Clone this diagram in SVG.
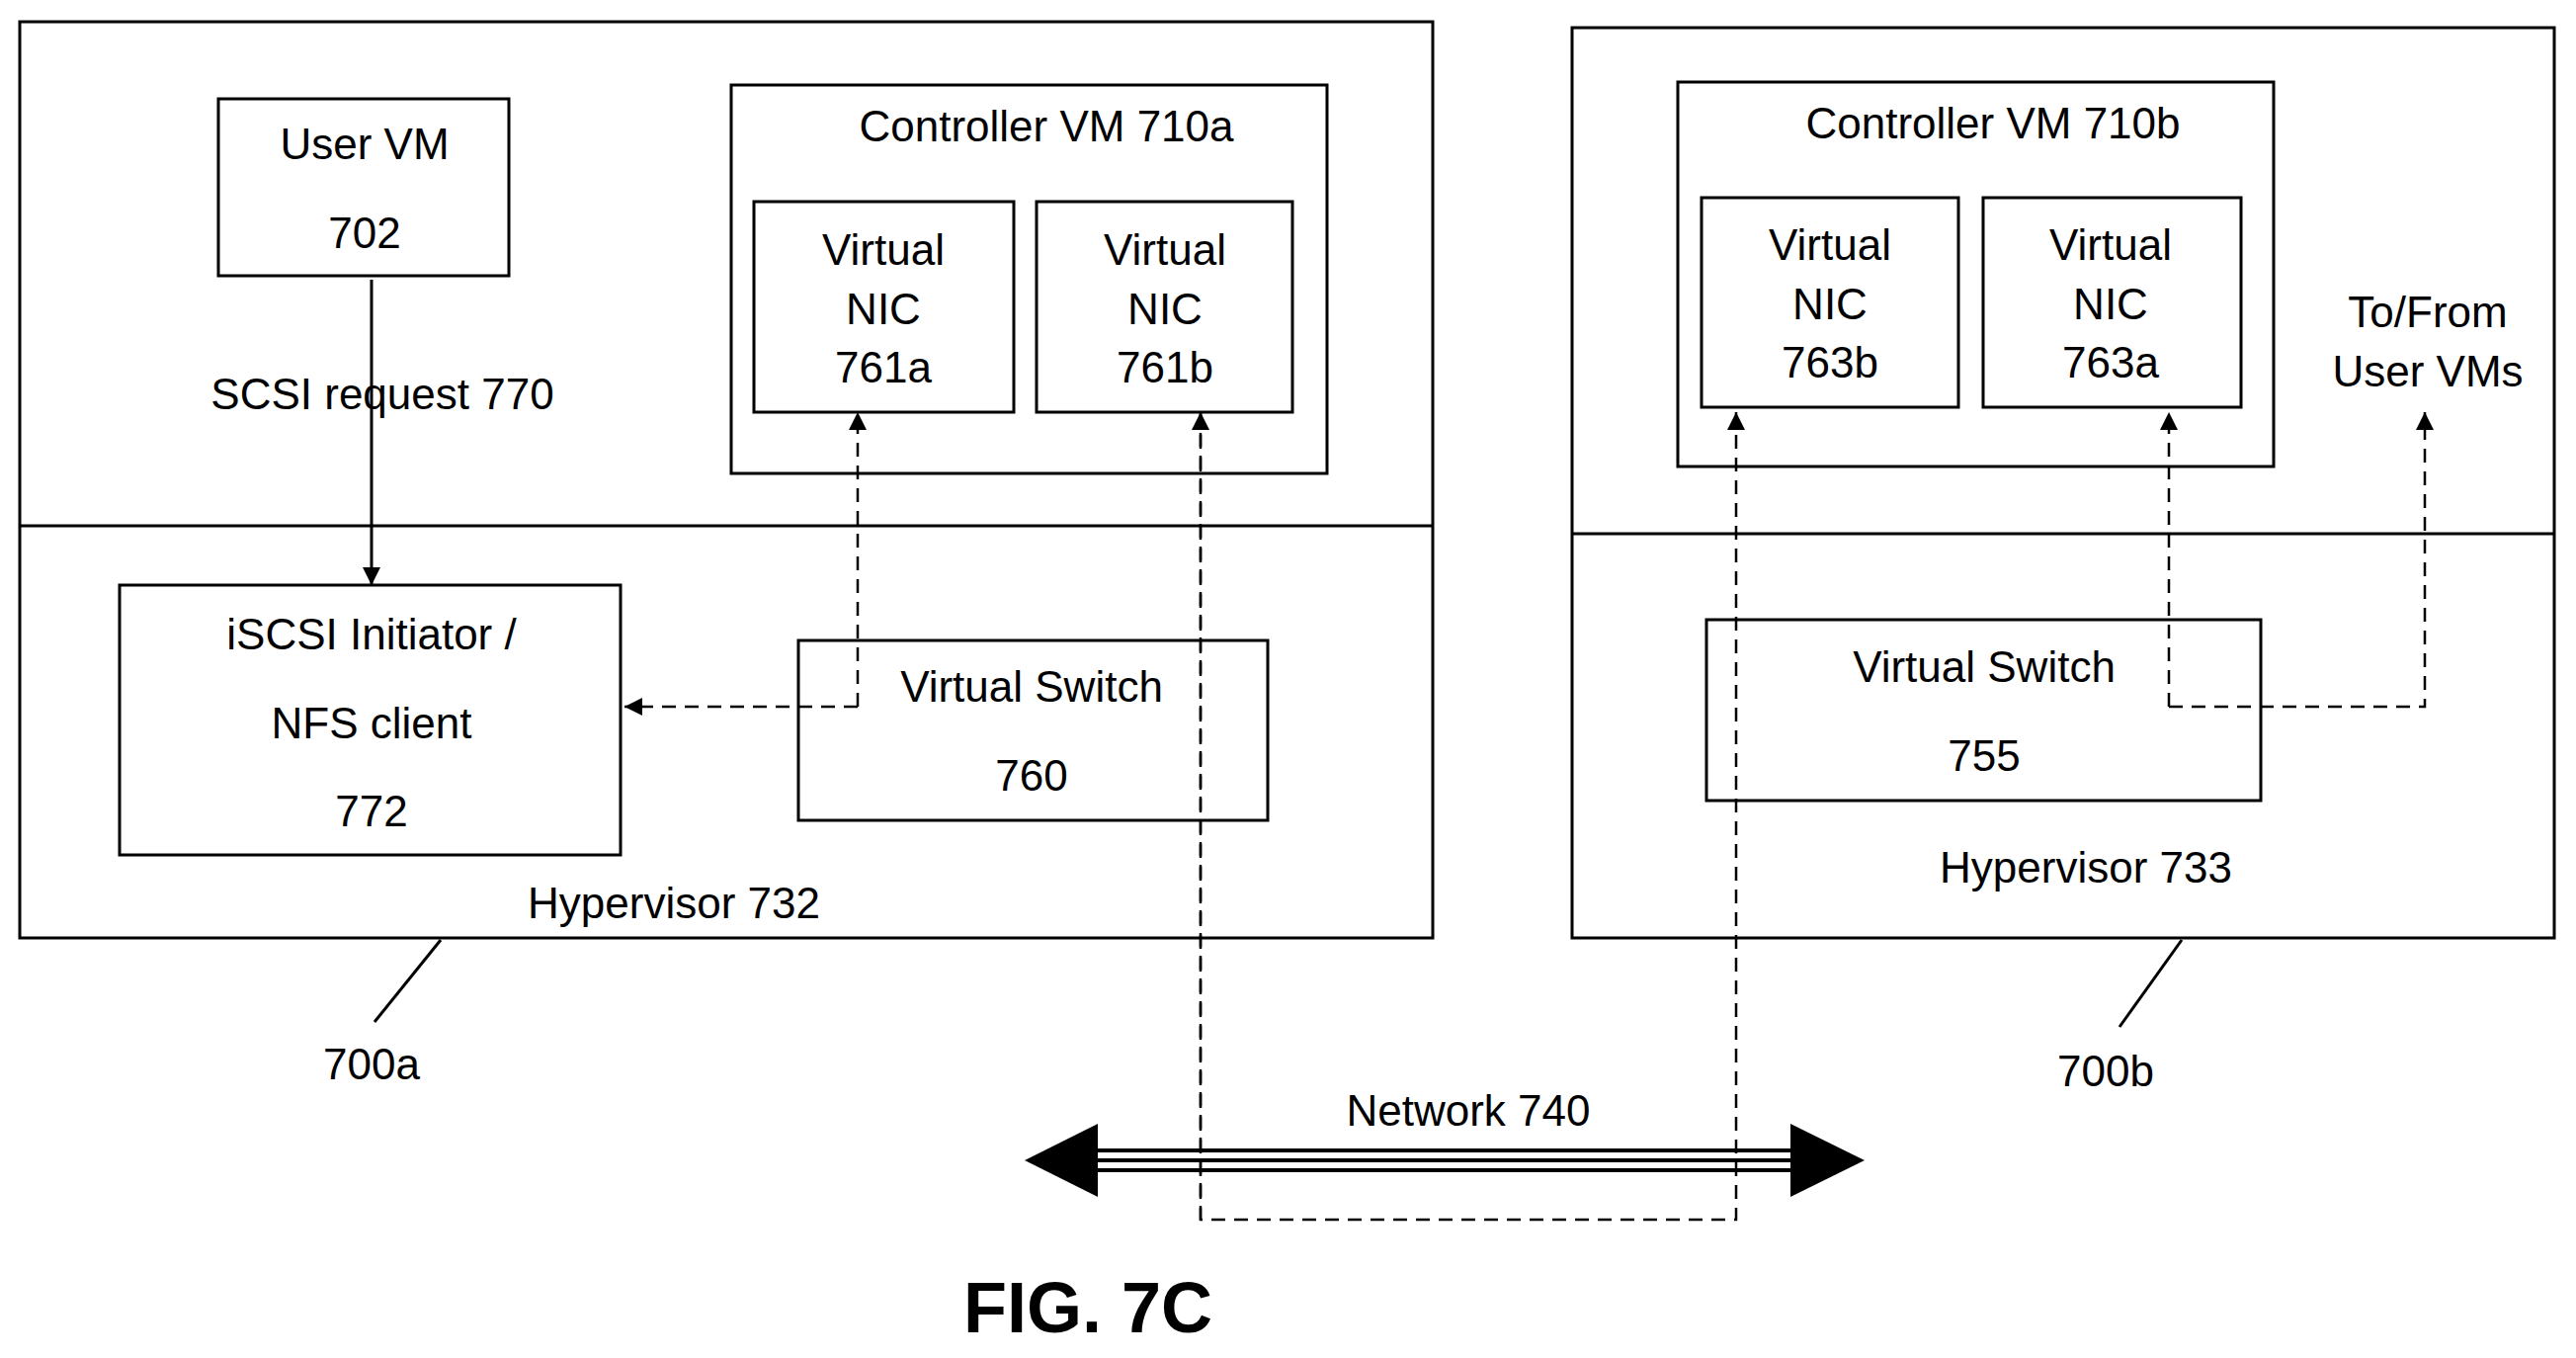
<svg xmlns="http://www.w3.org/2000/svg" width="2607" height="1374" viewBox="0 0 2607 1374">
<style>
.b{fill:none;stroke:#000;stroke-width:3}
.d{fill:none;stroke:#000;stroke-width:2.5;stroke-dasharray:14 9}
text{font-family:"Liberation Sans",Arial,sans-serif;font-size:44px;text-anchor:middle;fill:#000}
</style>
<defs>
<marker id="a" viewBox="0 0 10 10" refX="10" refY="5" markerWidth="6" markerHeight="6" markerUnits="userSpaceOnUse" orient="auto"><path d="M0,0L10,5L0,10z"/></marker>
<marker id="s" viewBox="0 0 10 10" refX="10" refY="5" markerWidth="18" markerHeight="18" markerUnits="userSpaceOnUse" orient="auto"><path d="M0,0L10,5L0,10z"/></marker>
</defs>
<rect width="2607" height="1374" fill="#fff"/>
<g id="host700a">
<rect class="b" x="20" y="22" width="1430" height="927"/>
<line class="b" x1="20" y1="532" x2="1450" y2="532"/>
<text x="682" y="929">Hypervisor 732</text>
<line class="b" x1="446" y1="951" x2="379" y2="1034"/>
<text x="376" y="1092">700a</text>
</g>
<g id="uservm"><rect class="b" x="221" y="100" width="294" height="179"/><text x="369" y="161">User VM</text><text x="369" y="251">702</text></g>
<g id="cvm710a"><rect class="b" x="740" y="86" width="603" height="393"/><text x="1059" y="143">Controller VM 710a</text></g>
<g id="nic761a"><rect class="b" x="763" y="204" width="263" height="213"/><text x="894" y="268">Virtual</text><text x="894" y="328">NIC</text><text x="894" y="387">761a</text></g>
<g id="nic761b"><rect class="b" x="1049" y="204" width="259" height="213"/><text x="1179" y="268">Virtual</text><text x="1179" y="328">NIC</text><text x="1179" y="387">761b</text></g>
<g id="iscsi"><rect class="b" x="121" y="592" width="507" height="273"/><text x="376" y="657">iSCSI Initiator /</text><text x="376" y="747">NFS client</text><text x="376" y="836">772</text></g>
<g id="vs760"><rect class="b" x="808" y="648" width="475" height="182"/><text x="1044" y="710">Virtual Switch</text><text x="1044" y="800">760</text></g>
<g id="host700b">
<rect class="b" x="1591" y="28" width="994" height="921"/>
<line class="b" x1="1591" y1="540" x2="2585" y2="540"/>
<text x="2111" y="893">Hypervisor 733</text>
<line class="b" x1="2208" y1="951" x2="2145" y2="1039"/>
<text x="2131" y="1099">700b</text>
<text x="2457" y="331">To/From</text><text x="2457" y="391">User VMs</text>
</g>
<g id="cvm710b"><rect class="b" x="1698" y="83" width="603" height="389"/><text x="2017" y="140">Controller VM 710b</text></g>
<g id="nic763b"><rect class="b" x="1722" y="200" width="260" height="212"/><text x="1852" y="263">Virtual</text><text x="1852" y="323">NIC</text><text x="1852" y="382">763b</text></g>
<g id="nic763a"><rect class="b" x="2007" y="200" width="261" height="212"/><text x="2136" y="263">Virtual</text><text x="2136" y="323">NIC</text><text x="2136" y="382">763a</text></g>
<g id="vs755"><rect class="b" x="1727" y="627" width="561" height="183"/><text x="2008" y="690">Virtual Switch</text><text x="2008" y="780">755</text></g>
<g id="network"><text x="1486" y="1139">Network 740</text></g>
<g id="connectors">
<line x1="376" y1="283" x2="376" y2="592" stroke="#000" stroke-width="3" marker-end="url(#s)"/>
<text x="387" y="414">SCSI request 770</text>
<path class="d" d="M868,715H632" marker-end="url(#s)"/>
<path class="d" d="M868,715V417" marker-end="url(#s)"/>
<path class="d" d="M1215,417V1234H1757V417" marker-end="url(#s)"/>
<path class="d" d="M1215,1234V417" marker-end="url(#s)"/>
<path class="d" d="M2195,715V417" marker-end="url(#s)"/>
<path class="d" d="M2195,715H2454V417" marker-end="url(#s)"/>
<line x1="1100" y1="1164" x2="1825" y2="1164" stroke="#000" stroke-width="4"/>
<line x1="1100" y1="1174" x2="1825" y2="1174" stroke="#000" stroke-width="4"/>
<line x1="1100" y1="1184" x2="1825" y2="1184" stroke="#000" stroke-width="4"/>
<path d="M1037,1174L1111,1137V1211z"/>
<path d="M1887,1174L1812,1137V1211z"/>
</g>
<text x="1101" y="1348" style="font-size:72px;font-weight:bold">FIG. 7C</text>
</svg>
